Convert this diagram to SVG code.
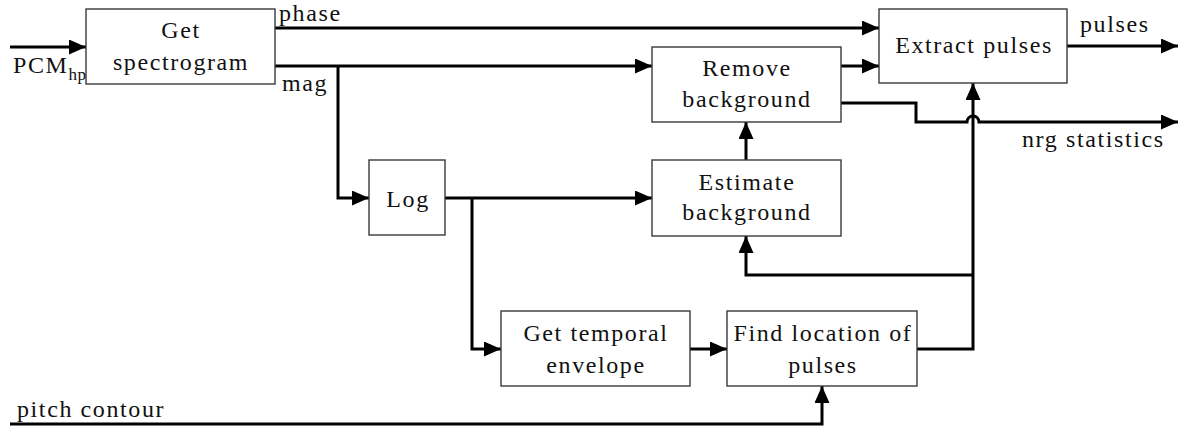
<svg xmlns="http://www.w3.org/2000/svg" width="1187" height="432" viewBox="0 0 1187 432">
  <defs>
    <marker id="arrow" markerUnits="userSpaceOnUse" markerWidth="18" markerHeight="16" refX="17" refY="7.5" orient="auto">
      <path d="M0,0 L17,7.5 L0,15 Z" fill="#000"/>
    </marker>
    <style>
      .box { fill: #fff; stroke: #3a3a3a; stroke-width: 1.4; }
      .lbl { font-family: "Liberation Serif", "DejaVu Serif", serif; font-size: 24px; letter-spacing: 1.6px; fill: #111; }
      .mid { text-anchor: middle; }
      .sub { font-size: 17px; letter-spacing: 0.5px; }
      .wire { fill: none; stroke: #000; stroke-width: 3; stroke-linejoin: miter; }
      .arr { marker-end: url(#arrow); }
    </style>
  </defs>
  <rect width="1187" height="432" fill="#fff"/>

  <!-- connectors -->
  <g id="connectors">
    <!-- PCM input -->
    <path class="wire arr" d="M10,47 H86"/>
    <!-- phase to extract pulses -->
    <path class="wire arr" d="M275,28 H879"/>
    <!-- magnitude to remove background -->
    <path class="wire arr" d="M275,66 H652"/>
    <!-- magnitude branch down to log -->
    <path class="wire arr" d="M338,66 V198 H369"/>
    <!-- log to estimate background -->
    <path class="wire arr" d="M445,198 H652"/>
    <!-- log branch to temporal envelope -->
    <path class="wire arr" d="M472,198 V349 H501"/>
    <!-- envelope to pulse location -->
    <path class="wire arr" d="M690,349 H727"/>
    <!-- estimate to remove -->
    <path class="wire arr" d="M746,160 V122"/>
    <!-- remove to extract -->
    <path class="wire arr" d="M841,66 H879"/>
    <!-- pulse locations up to extract pulses -->
    <path class="wire arr" d="M917,349 H973 V83"/>
    <!-- pulse locations back to estimate background -->
    <path class="wire arr" d="M973,275 H746 V236"/>
    <!-- pitch contour -->
    <path class="wire arr" d="M10,424 H822 V386"/>
    <!-- pulses output -->
    <path class="wire arr" d="M1067,46 H1178"/>
    <!-- energy statistics output with crossover hop -->
    <path class="wire arr" d="M841,103 H916 V122 H967 A6,6 0 0 1 979,122 H1178"/>
  </g>

  <!-- connector labels -->
  <g id="labels">
    <text class="lbl" x="13" y="73">PCM<tspan class="sub" dy="7">hp</tspan></text>
    <text class="lbl" x="279" y="21">phase</text>
    <text class="lbl" x="282" y="91">mag</text>
    <text class="lbl" x="1080" y="32">pulses</text>
    <text class="lbl" x="1022" y="147">nrg statistics</text>
    <text class="lbl" x="17" y="417">pitch contour</text>
  </g>

  <g id="get-spectrogram">
    <rect class="box" x="86" y="9" width="189" height="75"/>
    <text class="lbl mid" x="181" y="38">Get</text>
    <text class="lbl mid" x="181" y="70">spectrogram</text>
  </g>

  <g id="remove-background">
    <rect class="box" x="652" y="47" width="189" height="75"/>
    <text class="lbl mid" x="747" y="76">Remove</text>
    <text class="lbl mid" x="747" y="107">background</text>
  </g>

  <g id="extract-pulses">
    <rect class="box" x="879" y="9" width="188" height="74"/>
    <text class="lbl mid" x="974" y="53">Extract pulses</text>
  </g>

  <g id="log">
    <rect class="box" x="369" y="160" width="76" height="75"/>
    <text class="lbl mid" x="408" y="207">Log</text>
  </g>

  <g id="estimate-background">
    <rect class="box" x="652" y="160" width="189" height="76"/>
    <text class="lbl mid" x="747" y="190">Estimate</text>
    <text class="lbl mid" x="747" y="220">background</text>
  </g>

  <g id="get-temporal-envelope">
    <rect class="box" x="501" y="311" width="189" height="75"/>
    <text class="lbl mid" x="596" y="341">Get temporal</text>
    <text class="lbl mid" x="596" y="373">envelope</text>
  </g>

  <g id="find-location-of-pulses">
    <rect class="box" x="727" y="311" width="190" height="75"/>
    <text class="lbl mid" x="823" y="341">Find location of</text>
    <text class="lbl mid" x="823" y="373">pulses</text>
  </g>
</svg>
